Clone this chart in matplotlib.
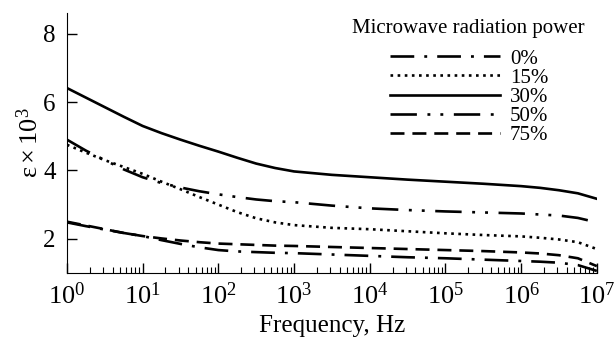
import numpy as np
import matplotlib
matplotlib.use('Agg')
import matplotlib.pyplot as plt

plt.rcParams['font.family'] = ['Liberation Serif', 'DejaVu Serif']
plt.rcParams['mathtext.fontset'] = 'custom'
plt.rcParams['mathtext.rm'] = 'Liberation Serif'
plt.rcParams['mathtext.it'] = 'Liberation Serif:italic'

# log10 of frequency (Hz)
logf = [0, 0.25, 0.5, 0.75, 1, 1.25, 1.5, 1.75, 2, 2.25, 2.5, 2.75, 3,
        3.5, 4, 4.5, 5, 5.5, 6, 6.25, 6.5, 6.75, 7]

eps_0 = [2.48, 2.37, 2.27, 2.17, 2.08, 1.96, 1.85, 1.75, 1.67, 1.63, 1.61, 1.59, 1.58,
         1.54, 1.50, 1.46, 1.43, 1.39, 1.35, 1.33, 1.30, 1.23, 1.06]
eps_15 = [4.75, 4.52, 4.30, 4.10, 3.90, 3.67, 3.45, 3.22, 3.00, 2.78, 2.60, 2.48, 2.40,
          2.32, 2.28, 2.22, 2.16, 2.11, 2.07, 2.03, 1.98, 1.90, 1.70]
eps_30 = [6.41, 6.13, 5.85, 5.57, 5.30, 5.09, 4.90, 4.72, 4.55, 4.37, 4.20, 4.07, 3.97,
          3.87, 3.80, 3.73, 3.67, 3.61, 3.54, 3.49, 3.42, 3.33, 3.17]
eps_50 = [4.90, 4.58, 4.30, 4.03, 3.80, 3.63, 3.50, 3.39, 3.30, 3.22, 3.15, 3.10, 3.07,
          2.97, 2.89, 2.84, 2.80, 2.77, 2.74, 2.71, 2.68, 2.61, 2.48]
eps_75 = [2.50, 2.39, 2.28, 2.17, 2.08, 2.01, 1.95, 1.90, 1.86, 1.84, 1.82, 1.80, 1.79,
          1.76, 1.73, 1.70, 1.67, 1.64, 1.60, 1.57, 1.52, 1.43, 1.20]

labels = ['0%', '15%', '30%', '50%', '75%']

freq = 10.0 ** np.array(logf)

fig = plt.figure(figsize=(6.14, 3.37), dpi=100)
ax = fig.add_axes([0.109, 0.19, 0.863, 0.771])

lw = 1.9
ax.plot(freq, eps_0, color='k', lw=lw, dashes=(9, 3.8, 1.1, 3.8), label=labels[0])
ax.plot(freq, eps_15, color='k', lw=lw, dashes=(1.0, 1.7), label=labels[1])
ax.plot(freq, eps_30, color='k', lw=lw, label=labels[2])
ax.plot(freq, eps_50, color='k', lw=lw, dashes=(10, 4, 1.1, 3.8, 1.1, 4), label=labels[3])
ax.plot(freq, eps_75, color='k', lw=lw, dashes=(5.3, 3.0), label=labels[4])

ax.set_xscale('log')
ax.set_xlim(1, 1e7)
ax.set_ylim(1, 8.6)
ax.set_yticks([2, 4, 6, 8])
ax.set_xticks([10.0 ** k for k in range(8)])
ax.set_xticklabels([r'$10^{%d}$' % k for k in range(8)], fontsize=19)
ax.tick_params(axis='y', labelsize=18, pad=8)
ax.tick_params(which='major', direction='in', length=7, width=1)
ax.tick_params(which='minor', direction='in', length=4, width=0.8)
ax.tick_params(axis='x', pad=7)
ax.spines['top'].set_visible(False)
ax.spines['right'].set_visible(False)

ax.set_xlabel('Frequency, Hz', fontsize=18, labelpad=4)
ax.set_ylabel(r'$\mathrm{\varepsilon} \times 10^3$', fontsize=19, labelpad=0)

fig.text(585 / 614, 1 - 28 / 337, 'Microwave radiation power', fontsize=15,
         ha='right', va='center')
leg = ax.legend(loc='upper left', frameon=False, fontsize=15,
                handlelength=5.3, handletextpad=0.45, labelspacing=-0.02,
                borderpad=0, borderaxespad=0,
                bbox_to_anchor=(390 / 614, 1 - 49 / 337),
                bbox_transform=fig.transFigure)

fig.savefig('out.png', dpi=100)
